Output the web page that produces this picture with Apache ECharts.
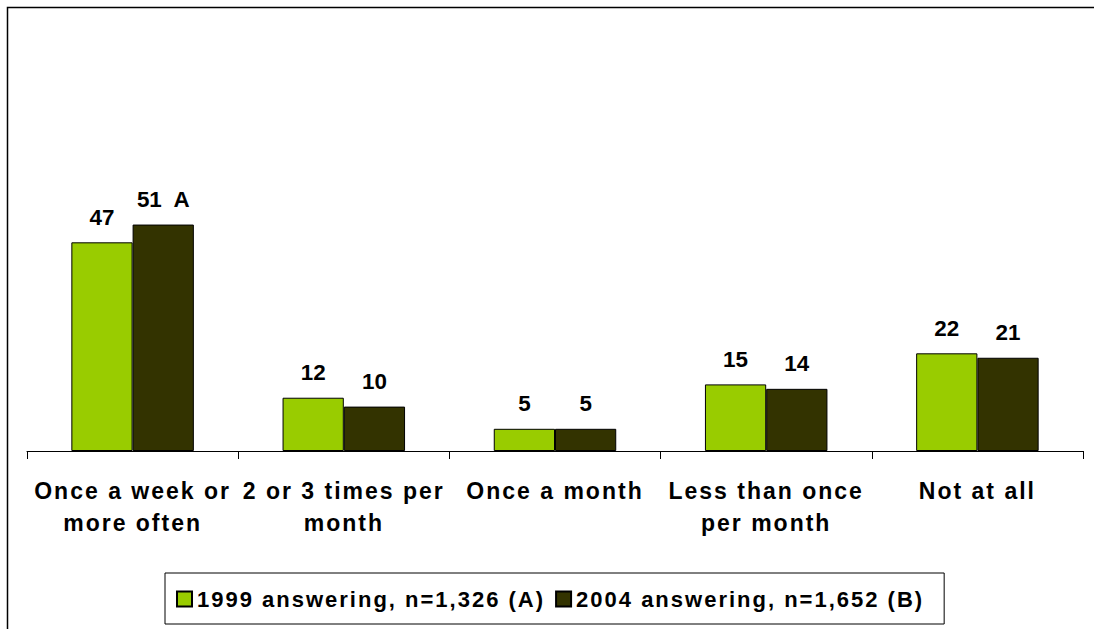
<!DOCTYPE html>
<html>
<head>
<meta charset="utf-8">
<script src="https://cdn.jsdelivr.net/npm/echarts@6/dist/echarts.min.js"></script>
<style>
    html, body { margin: 0; padding: 0; background: #fff; }
    #chart { width: 1094px; height: 629px; }
    /* the source picture has widely tracked bold text */
    #chart text[style*="23px"], #chart text[style*="22px"] { letter-spacing: 2px; }
</style>
</head>
<body>
<div id="chart"></div>
<script>
const categories = ['Once a week or\nmore often', '2 or 3 times per\nmonth', 'Once a month', 'Less than once\nper month', 'Not at all'];
const seriesNames = ['1999 answering, n=1,326 (A)', '2004 answering, n=1,652 (B)'];
const values1999 = [47, 12, 5, 15, 22];
const values2004 = [51, 10, 5, 14, 21];
const labels2004 = ['51  A', '10', '5', '14', '21'];

var myChart = echarts.init(document.getElementById('chart'), null, { renderer: 'svg' });

const font = '"Liberation Sans", Arial, sans-serif';

const option = {
    backgroundColor: '#FFF',
    animation: false,
    graphic: [
        {
            type: 'rect',
            shape: { x: 7.5, y: 7.5, width: 1200, height: 700 },
            style: { fill: 'none', stroke: '#000', lineWidth: 1.5 }
        }
    ],
    grid: {
        left: 27,
        right: 11,
        top: 7,
        bottom: 178
    },
    legend: {
        left: 165,
        top: 573,
        orient: 'horizontal',
        icon: 'rect',
        itemWidth: 15,
        itemHeight: 15,
        itemGap: 64, // room for the letter spacing that echarts does not measure
        padding: [15, 74, 14, 11],
        borderColor: '#000',
        borderWidth: 1,
        textStyle: {
            fontFamily: font,
            fontWeight: 'bold',
            fontSize: 22,
            lineHeight: 15,
            color: '#000'
        },
        data: seriesNames
    },
    xAxis: {
        type: 'category',
        data: categories,
        axisLine: { show: true, lineStyle: { color: '#000', width: 1 } },
        axisTick: { show: true, length: 8, lineStyle: { color: '#000' } },
        axisLabel: {
            interval: 0,
            margin: 24,
            fontFamily: font,
            fontWeight: 'bold',
            fontSize: 23,
            lineHeight: 32,
            color: '#000'
        }
    },
    yAxis: {
        type: 'value',
        min: 0,
        max: 100,
        show: false,
        splitLine: { show: false }
    },
    series: [
        {
            name: seriesNames[0],
            type: 'bar',
            barGap: '0%',
            barCategoryGap: '42%',
            itemStyle: { color: '#99CC00', borderColor: '#000', borderWidth: 1 },
            label: {
                show: true,
                position: 'top',
                distance: 14,
                fontFamily: font,
                fontWeight: 'bold',
                fontSize: 22.4,
                color: '#000'
            },
            data: values1999
        },
        {
            name: seriesNames[1],
            type: 'bar',
            itemStyle: { color: '#333300', borderColor: '#000', borderWidth: 1 },
            label: {
                show: true,
                position: 'top',
                distance: 14,
                fontFamily: font,
                fontWeight: 'bold',
                fontSize: 22.4,
                color: '#000',
                formatter: function (p) { return labels2004[p.dataIndex]; }
            },
            data: values2004
        }
    ]
};

option && myChart.setOption(option);

window.addEventListener('resize', function () {
    myChart.resize();
});
</script>
</body>
</html>
